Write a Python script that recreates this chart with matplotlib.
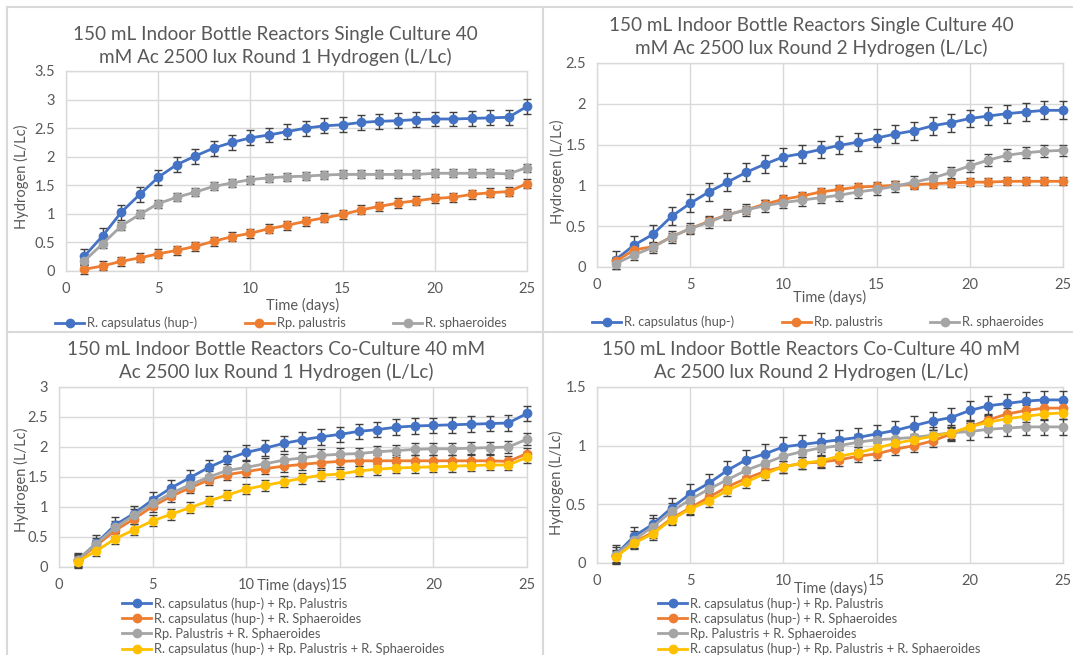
import matplotlib
matplotlib.use("Agg")
import matplotlib.pyplot as plt
from matplotlib.lines import Line2D

plt.rcParams['font.family'] = ['Lato', 'DejaVu Sans']

W, H = 1073, 655
TEXT = '#595959'
GRID = '#D9D9D9'
ERR = '#404040'

days = list(range(1, 26))

# ---- Single culture, round 1 ----
r1_caps = [0.26, 0.62, 1.03, 1.34, 1.64, 1.86, 2.01, 2.15, 2.25, 2.33, 2.38, 2.44, 2.50,
           2.54, 2.56, 2.60, 2.62, 2.63, 2.65, 2.66, 2.66, 2.67, 2.68, 2.69, 2.88]
r1_pal = [0.03, 0.09, 0.17, 0.23, 0.30, 0.36, 0.43, 0.52, 0.60, 0.66, 0.74, 0.80, 0.87,
          0.93, 0.99, 1.07, 1.13, 1.19, 1.23, 1.27, 1.29, 1.34, 1.37, 1.39, 1.53]
r1_sph = [0.18, 0.48, 0.79, 0.99, 1.18, 1.29, 1.38, 1.48, 1.54, 1.60, 1.63, 1.65, 1.66,
          1.68, 1.69, 1.69, 1.69, 1.69, 1.69, 1.71, 1.71, 1.71, 1.71, 1.70, 1.81]
r1_err = [0.13, 0.08, 0.07]

# ---- Single culture, round 2 ----
r2_caps = [0.09, 0.27, 0.40, 0.62, 0.78, 0.92, 1.04, 1.16, 1.26, 1.35, 1.39, 1.44, 1.49,
           1.53, 1.58, 1.63, 1.67, 1.73, 1.77, 1.82, 1.85, 1.88, 1.90, 1.92, 1.92]
r2_pal = [0.07, 0.21, 0.25, 0.37, 0.47, 0.56, 0.64, 0.70, 0.77, 0.83, 0.87, 0.92, 0.95,
          0.98, 0.99, 1.00, 1.01, 1.02, 1.03, 1.04, 1.04, 1.05, 1.05, 1.05, 1.05]
r2_sph = [0.04, 0.15, 0.24, 0.37, 0.47, 0.55, 0.64, 0.70, 0.75, 0.79, 0.82, 0.85, 0.88,
          0.92, 0.95, 0.99, 1.04, 1.09, 1.16, 1.24, 1.31, 1.37, 1.40, 1.42, 1.43]
r2_err = [0.11, 0.05, 0.07]

# ---- Co-culture, round 1 ----
c1_cp = [0.11, 0.40, 0.70, 0.89, 1.12, 1.32, 1.49, 1.66, 1.80, 1.91, 1.98, 2.06, 2.12,
         2.17, 2.21, 2.26, 2.29, 2.33, 2.35, 2.36, 2.37, 2.38, 2.39, 2.40, 2.56]
c1_cs = [0.11, 0.36, 0.61, 0.80, 1.01, 1.18, 1.32, 1.45, 1.54, 1.59, 1.64, 1.68, 1.71,
         1.74, 1.76, 1.77, 1.77, 1.77, 1.77, 1.77, 1.77, 1.77, 1.77, 1.76, 1.89]
c1_ps = [0.12, 0.39, 0.66, 0.86, 1.06, 1.23, 1.37, 1.50, 1.61, 1.66, 1.72, 1.78, 1.82,
         1.86, 1.88, 1.89, 1.92, 1.94, 1.96, 1.97, 1.97, 1.98, 1.99, 2.00, 2.13]
c1_cps = [0.09, 0.27, 0.47, 0.62, 0.77, 0.88, 0.99, 1.10, 1.20, 1.30, 1.36, 1.42, 1.48,
          1.53, 1.55, 1.60, 1.63, 1.65, 1.66, 1.67, 1.68, 1.69, 1.70, 1.70, 1.83]
c1_err = [0.13, 0.09, 0.10, 0.09]

# ---- Co-culture, round 2 ----
c2_cp = [0.07, 0.23, 0.33, 0.47, 0.59, 0.68, 0.79, 0.88, 0.93, 0.99, 1.01, 1.03, 1.05,
         1.07, 1.10, 1.13, 1.17, 1.21, 1.24, 1.30, 1.34, 1.36, 1.38, 1.39, 1.39]
c2_cs = [0.06, 0.18, 0.26, 0.38, 0.47, 0.56, 0.65, 0.72, 0.78, 0.82, 0.85, 0.86, 0.88,
         0.91, 0.93, 0.97, 1.00, 1.04, 1.10, 1.16, 1.22, 1.27, 1.30, 1.32, 1.32]
c2_ps = [0.07, 0.20, 0.31, 0.44, 0.54, 0.63, 0.71, 0.79, 0.85, 0.91, 0.95, 0.98, 1.00,
         1.03, 1.05, 1.06, 1.07, 1.09, 1.11, 1.12, 1.14, 1.15, 1.16, 1.16, 1.16]
c2_cps = [0.05, 0.17, 0.25, 0.37, 0.46, 0.53, 0.62, 0.69, 0.76, 0.82, 0.85, 0.87, 0.91,
          0.94, 0.98, 1.02, 1.05, 1.08, 1.11, 1.16, 1.20, 1.23, 1.25, 1.27, 1.28]
c2_err = [0.08, 0.05, 0.07, 0.05]

single_labels = ['R. capsulatus (hup-)', 'Rp. palustris', 'R. sphaeroides']
co_labels = ['R. capsulatus (hup-) + Rp. Palustris',
             'R. capsulatus (hup-) + R. Sphaeroides',
             'Rp. Palustris + R. Sphaeroides',
             'R. capsulatus (hup-) + Rp. Palustris + R. Sphaeroides']

titles = [
    '150 mL Indoor Bottle Reactors Single Culture 40\nmM Ac 2500 lux Round 1 Hydrogen (L/Lc)',
    '150 mL Indoor Bottle Reactors Single Culture 40\nmM Ac 2500 lux Round 2 Hydrogen (L/Lc)',
    '150 mL Indoor Bottle Reactors Co-Culture 40 mM\nAc 2500 lux Round 1 Hydrogen (L/Lc)',
    '150 mL Indoor Bottle Reactors Co-Culture 40 mM\nAc 2500 lux Round 2 Hydrogen (L/Lc)',
]

COLORS = ['#4472C4', '#ED7D31', '#A5A5A5', '#FFC000']

# panel layout in pixels: axes box (left, right, top, bottom), title centre,
# x-label centre, y-label centre, legend anchor
panels = [
    dict(series=[r1_caps, r1_pal, r1_sph], err=r1_err, labels=single_labels, ymax=3.5, ystep=0.5,
         box=(66, 527, 71, 271), title=(275, 46), xlab=(303, 305), ylab=(21, 177),
         leg=(55, 323), ncol=3),
    dict(series=[r2_caps, r2_pal, r2_sph], err=r2_err, labels=single_labels, ymax=2.5, ystep=0.5,
         box=(597, 1063, 63, 267), title=(811, 37), xlab=(830, 297), ylab=(557, 172),
         leg=(592, 322), ncol=3),
    dict(series=[c1_cp, c1_cs, c1_ps, c1_cps], err=c1_err, labels=co_labels, ymax=3.0, ystep=0.5,
         box=(59, 527, 387, 567), title=(276, 361), xlab=(294, 585), ylab=(21, 480),
         leg=(122, 597), ncol=1),
    dict(series=[c2_cp, c2_cs, c2_ps, c2_cps], err=c2_err, labels=co_labels, ymax=1.5, ystep=0.5,
         box=(597, 1063, 387, 563), title=(811, 361), xlab=(831, 588), ylab=(556, 483),
         leg=(658, 597), ncol=1),
]

LEG_SIZE = 9.3

fig = plt.figure(figsize=(W / 100, H / 100), dpi=100)
fig.patch.set_facecolor('white')


def fx(px):
    return px / W


def fy(py):
    return 1 - py / H


for idx, p in enumerate(panels):
    l, r, t, b = p['box']
    ax = fig.add_axes([fx(l), fy(b), fx(r - l), (b - t) / H])
    ax.set_xlim(0, 25)
    ax.set_ylim(0, p['ymax'])
    ax.set_xticks(range(0, 26, 5))
    n = int(round(p['ymax'] / p['ystep']))
    yt = [i * p['ystep'] for i in range(n + 1)]
    ax.set_yticks(yt)
    ax.set_yticklabels(['%g' % v for v in yt])
    ax.grid(True, color=GRID, linewidth=1.0)
    ax.set_axisbelow(True)
    for s in ax.spines.values():
        s.set_color(GRID)
        s.set_linewidth(1.0)
    ax.tick_params(length=0, labelsize=10.5, labelcolor=TEXT, pad=8)

    for vals, e, c in zip(p['series'], p['err'], COLORS):
        ax.errorbar(days, vals, yerr=e, color=c, ecolor=ERR, elinewidth=1.0,
                    capsize=3, capthick=1.0, linewidth=2.0, marker='o',
                    markersize=6, clip_on=False, zorder=3)

    # axis titles
    ax.set_xlabel('Time (days)', fontsize=10.5, color=TEXT)
    ax.xaxis.label.set_va('center')
    ax.xaxis.set_label_coords((p['xlab'][0] - l) / (r - l), (b - p['xlab'][1]) / (b - t))
    ax.set_ylabel('Hydrogen (L/Lc)', fontsize=10.5, color=TEXT)
    ax.yaxis.label.set_va('center')
    ax.yaxis.set_label_coords((p['ylab'][0] - l) / (r - l), (b - p['ylab'][1]) / (b - t))

    fig.text(fx(p['title'][0]), fy(p['title'][1]), titles[idx],
             ha='center', va='center', fontsize=13.6, color=TEXT, linespacing=1.3)

    handles = [Line2D([], [], color=c, linewidth=2.0, marker='o', markersize=6)
               for c in COLORS[:len(p['labels'])]]
    if p['ncol'] == 3:
        leg = fig.legend(handles, p['labels'], loc='center left',
                         bbox_to_anchor=(fx(p['leg'][0]), fy(p['leg'][1])),
                         ncol=3, frameon=False, fontsize=LEG_SIZE, borderpad=0,
                         handlelength=2.25, handletextpad=0.22, columnspacing=3.7,
                         borderaxespad=0)
    else:
        leg = fig.legend(handles, p['labels'], loc='upper left',
                         bbox_to_anchor=(fx(p['leg'][0]), fy(p['leg'][1])),
                         ncol=1, frameon=False, fontsize=LEG_SIZE, borderpad=0,
                         handlelength=2.25, handletextpad=0.22, labelspacing=0.22,
                         borderaxespad=0)
    for txt in leg.get_texts():
        txt.set_color(TEXT)

# chart frames
frame = dict(color=GRID, linewidth=1.5, transform=fig.transFigure)
fig.add_artist(Line2D([fx(7), 1], [fy(7), fy(7)], **frame))
fig.add_artist(Line2D([fx(7), 1], [fy(332), fy(332)], **frame))
fig.add_artist(Line2D([fx(7), fx(7)], [fy(7), 0], **frame))
fig.add_artist(Line2D([fx(543), fx(543)], [fy(7), 0], **frame))

fig.savefig('out.png', dpi=100, facecolor='white')
